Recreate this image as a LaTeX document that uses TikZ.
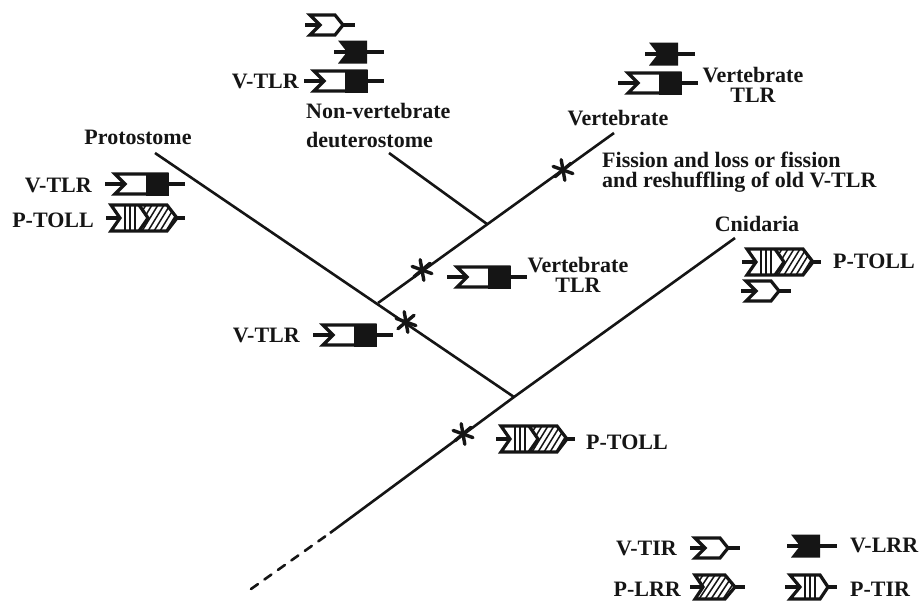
\documentclass[tikz,border=0pt]{standalone}
\usepackage{fontspec}
\setmainfont{Liberation Serif}
\definecolor{tInk}{HTML}{151515}
\tikzset{
  branch/.style={tInk,line width=2.6pt},
  icon/.style={tInk,line width=3.2pt,miter limit=10},
  stripe/.style={tInk,line width=1.1pt},
  hatch/.style={tInk,line width=1.5pt},
  lbl/.style={tInk,font=\bfseries\fontsize{22}{20}\selectfont,align=center,inner sep=0pt},
  pics/vtir/.style={code={
    \draw[icon] (-15,0) -- (0,0);
    \draw[icon] (22,0) -- (35,0);
    \draw[icon,fill=white] (-10,-10) -- (15,-10) -- (23,0) -- (15,10) -- (-10,10) -- (0,0) -- cycle;
  }},
  pics/vlrr/.style={code={
    \draw[icon] (-13,0) -- (37,0);
    \fill[tInk] (-9,-11.5) -- (20,-11.5) -- (20,11.5) -- (-9,11.5) -- (0,0) -- cycle;
  }},
  pics/vtlr/.style={code={
    \draw[icon] (-20,0) -- (0,0);
    \draw[icon] (40,0) -- (60,0);
    \draw[icon,fill=white] (-10,-10) -- (42,-10) -- (42,10) -- (-10,10) -- (0,0) -- cycle;
    \fill[tInk] (21,-11.5) rectangle (43.5,11.5);
  }},
  pics/ptir/.style={code={
    \draw[icon] (-15,0) -- (0,0);
    \draw[icon] (26,0) -- (37,0);
    \draw[icon,fill=white] (-10,-12) -- (20,-12) -- (28,0) -- (20,12) -- (-10,12) -- (0,0) -- cycle;
    \foreach \x in {5,10,15}{
      \draw[stripe] (\x,-12) -- (\x,12);
    }
  }},
  pics/plrr/.style={code={
    \draw[icon] (-13,0) -- (0,0);
    \draw[icon] (30,0) -- (42,0);
    \begin{scope}
      \clip (-8,-12) -- (22,-12) -- (32,0) -- (22,12) -- (-8,12) -- (0,0) -- cycle;
      \foreach \x in {-16,-10,...,40}{
        \draw[hatch] (\x,12) -- (\x+16,-12);
      }
    \end{scope}
    \draw[icon] (-8,-12) -- (22,-12) -- (32,0) -- (22,12) -- (-8,12) -- (0,0) -- cycle;
  }},
  pics/ptoll/.style={code={
    \draw[icon] (-14,0) -- (0,0);
    \draw[icon] (54,0) -- (65,0);
    \begin{scope}
      \clip (18,-13) -- (47,-13) -- (57,0) -- (47,13) -- (18,13) -- (28,0) -- cycle;
      \foreach \x in {10,16,...,52}{
        \draw[hatch] (\x,13) -- (\x+16,-13);
      }
    \end{scope}
    \foreach \x in {5,10,15}{
      \draw[stripe] (\x,-13) -- (\x,13);
    }
    \draw[icon] (19,-13) -- (28,0) -- (19,13);
    \draw[icon] (-9,-13) -- (47,-13) -- (57,0) -- (47,13) -- (-9,13) -- (0,0) -- cycle;
  }},
  pics/asterisk/.style={code={
    \foreach \a in {20,80,...,320}{
      \draw[tInk,line width=3.4pt,line cap=round] (0,0) -- (\a:10.5);
    }
  }}
}
\begin{document}
\begin{tikzpicture}[x=1pt,y=-1pt]
  \useasboundingbox (0,0) rectangle (920,600);
  % tree
  \coordinate (protoEnd) at (155,153);
  \coordinate (rootJoin) at (514,397);
  \coordinate (cnidEnd) at (735,238);
  \coordinate (solidEnd) at (330,533);
  \coordinate (dashEnd) at (251,589);
  \coordinate (vertStart) at (378,303);
  \coordinate (vertEnd) at (614,133);
  \coordinate (deutJoin) at (487,224);
  \coordinate (deutEnd) at (389,153);
  \draw[branch] (protoEnd) -- (rootJoin);
  \draw[branch] (cnidEnd) -- (rootJoin) -- (solidEnd);
  \draw[branch,dash pattern=on 8.5pt off 8pt,line cap=round] (dashEnd) -- (solidEnd);
  \draw[branch] (vertStart) -- (vertEnd);
  \draw[branch] (deutEnd) -- (deutJoin);
  % events
  \foreach \x/\y in {463/434,406/322,422/270,563/170}{
    \pic at (\x,\y) {asterisk};
  }
  % top left group
  \pic at (320,25) {vtir};
  \pic at (347,52) {vlrr};
  \pic at (324,81) {vtlr};
  \node[lbl,anchor=east] (topTlrLbl) at (299,81) {V-TLR};
  \node[lbl,anchor=west,align=left] (deutLbl) at (306,125) {Non-vertebrate\\[9pt]deuterostome};
  % vertebrate group
  \pic at (658,54) {vlrr};
  \pic at (638,83) {vtlr};
  \node[lbl] (vertTlrLbl) at (753,85) {Vertebrate\\TLR};
  \node[lbl] (vertLbl) at (618,118) {Vertebrate};
  \node[lbl,anchor=west,align=left] (fissionLbl) at (602,172) {Fission and loss or fission\\and reshuffling of old V-TLR};
  % protostome
  \node[lbl] (protoLbl) at (138,137) {Protostome};
  \node[lbl,anchor=east] (protoTlrLbl) at (92,185) {V-TLR};
  \node[lbl,anchor=east] (protoTollLbl) at (94,220) {P-TOLL};
  \pic at (125,184) {vtlr};
  \pic at (120,218) {ptoll};
  % cnidaria
  \node[lbl] (cnidLbl) at (757,224) {Cnidaria};
  \pic at (756,262) {ptoll};
  \pic at (756,291) {vtir};
  \node[lbl,anchor=west] (cnidTollLbl) at (833,261) {P-TOLL};
  % inner branches
  \pic at (467,277) {vtlr};
  \node[lbl] (midTlrLbl) at (578,275) {Vertebrate\\TLR};
  \pic at (333,335) {vtlr};
  \node[lbl,anchor=east] (ancTlrLbl) at (300,335) {V-TLR};
  \pic at (510,439) {ptoll};
  \node[lbl,anchor=west] (ancTollLbl) at (586,442) {P-TOLL};
  % key
  \node[lbl,anchor=east] (keyTirLbl) at (677,548) {V-TIR};
  \pic at (705,548) {vtir};
  \pic at (800,546) {vlrr};
  \node[lbl,anchor=west] (keyLrrLbl) at (850,545) {V-LRR};
  \node[lbl,anchor=east] (keyPlrrLbl) at (681,589) {P-LRR};
  \pic at (703,587) {plrr};
  \pic at (800,587) {ptir};
  \node[lbl,anchor=west] (keyPtirLbl) at (850,589) {P-TIR};
\end{tikzpicture}
\end{document}
